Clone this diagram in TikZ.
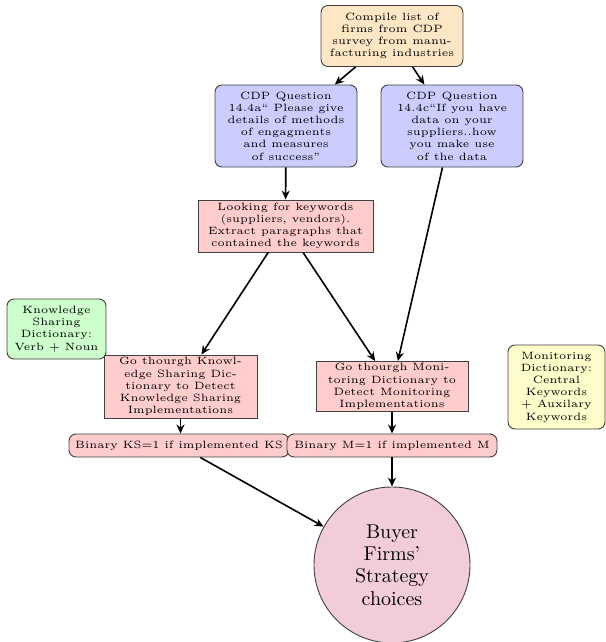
\documentclass[tikz,border=0pt]{standalone}
\usetikzlibrary{arrows.meta,shapes.geometric}
\definecolor{peach}{RGB}{253,230,196}
\begin{document}
\begin{tikzpicture}[x=0.5pt,y=-0.5pt,
  box/.style={draw=black!75, line width=0.45pt, align=center, font=\fontsize{5.3}{6.1}\selectfont, inner sep=1pt, text=black},
  rbox/.style={box, rounded corners=3.5pt},
  conn/.style={line width=0.8pt, -{Stealth[length=4.5pt,width=4pt]}}
]
\useasboundingbox (0,0) rectangle (605,642);
\node[rbox, fill=peach, minimum width=71pt, minimum height=30.5pt] (comp) at (392,36)
  {Compile list of\\firms from CDP\\survey from manu-\\facturing industries};
\node[rbox, fill=blue!20, minimum width=71pt, minimum height=41pt] (qa) at (286,126)
  {CDP Question\\14.4a`` Please give\\details of methods\\of engagments\\and measures\\of success''};
\node[rbox, fill=blue!20, minimum width=71pt, minimum height=41pt] (qc) at (452,126)
  {CDP Question\\14.4c``If you have\\data on your\\suppliers..how\\you make use\\of the data};
\node[box, fill=red!20, minimum width=87.5pt, minimum height=26pt] (kw) at (285.5,226)
  {Looking for keywords\\(suppliers, vendors).\\Extract paragraphs that\\contained the keywords};
\node[rbox, fill=green!20, minimum width=49.5pt, minimum height=30pt] (ksd) at (56.5,329)
  {Knowledge\\Sharing\\Dictionary:\\Verb + Noun};
\node[box, fill=red!20, minimum width=76.5pt, minimum height=31.5pt] (ksg) at (180.5,386.5)
  {Go thourgh Knowl-\\edge Sharing Dic-\\tionary to Detect\\Knowledge Sharing\\Implementations};
\node[box, fill=red!20, minimum width=76pt, minimum height=24.5pt] (msg) at (392,386.5)
  {Go thourgh Moni-\\toring Dictionary to\\Detect Monitoring\\Implementations};
\node[rbox, fill=yellow!20, minimum width=48.5pt, minimum height=42pt] (md) at (556.5,387)
  {Monitoring\\Dictionary:\\Central\\Keywords\\+ Auxilary\\Keywords};
\node[rbox, fill=red!20, minimum width=110pt, minimum height=11.5pt] (bks) at (179,445.5)
  {Binary KS=1 if implemented KS};
\node[rbox, fill=red!20, minimum width=105pt, minimum height=11.5pt] (bm) at (392,445.5)
  {Binary M=1 if implemented M};
\node[circle, draw=black!75, line width=0.45pt, fill=purple!20, minimum size=78pt, align=center,
  font=\fontsize{10}{11.2}\selectfont, inner sep=0pt] (circ) at (392,565)
  {Buyer\\Firms'\\Strategy\\choices};
\draw[conn] (comp) -- (qa);
\draw[conn] (comp) -- (qc);
\draw[conn] (qa) -- (kw);
\draw[conn] (qc) -- (msg);
\draw[conn] (kw) -- (ksg);
\draw[conn] (kw) -- (msg);
\draw[conn] (ksg) -- (ksg |- bks.north);
\draw[conn] (msg) -- (bm);
\draw[conn] (bks) -- (circ);
\draw[conn] (bm) -- (circ);
\end{tikzpicture}
\end{document}
